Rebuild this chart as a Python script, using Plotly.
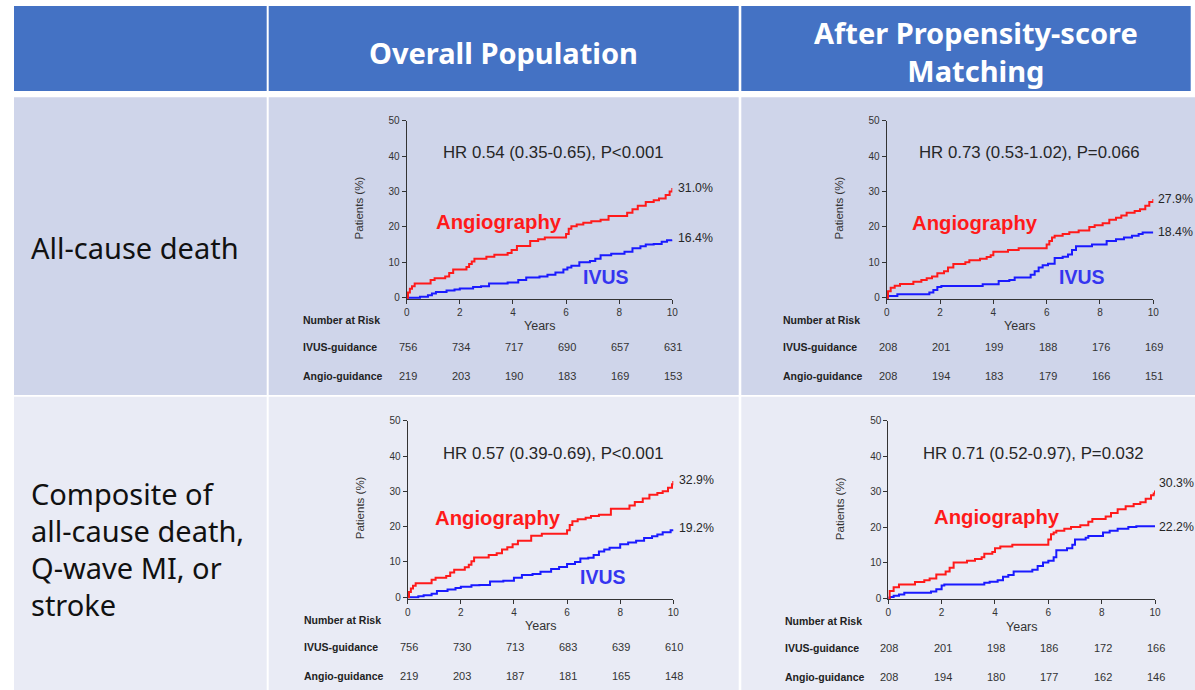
import plotly.graph_objects as go

W, H = 1195, 690

# ---------------- DATA ----------------
col_headers = ["Overall Population", "After Propensity-score<br>Matching"]
row_labels = ["All-cause death", ["Composite of", "all-cause death,", "Q-wave MI, or", "stroke"]]

hr_texts = ["HR 0.54 (0.35-0.65), P<0.001", "HR 0.73 (0.53-1.02), P=0.066",
            "HR 0.57 (0.39-0.69), P<0.001", "HR 0.71 (0.52-0.97), P=0.032"]

end_angio = ["31.0%", "27.9%", "32.9%", "30.3%"]
end_ivus = ["16.4%", "18.4%", "19.2%", "22.2%"]

risk_years = [0, 2, 4, 6, 8, 10]
risk_ivus = [[756, 734, 717, 690, 657, 631], [208, 201, 199, 188, 176, 169],
             [756, 730, 713, 683, 639, 610], [208, 201, 198, 186, 172, 166]]
risk_angio = [[219, 203, 190, 183, 169, 153], [208, 194, 183, 179, 166, 151],
              [219, 203, 187, 181, 165, 148], [208, 194, 180, 177, 162, 146]]

p1_angio_t = [0, 0.05, 0.12, 0.2, 0.3, 0.9, 1.05, 1.45, 1.6, 1.75, 2.25, 2.35, 2.45, 2.55, 3.0, 3.3, 3.8, 3.95, 4.15, 4.65, 4.95, 5.2, 6.0, 6.1, 6.2, 6.4, 6.65, 6.95, 7.3, 7.6, 8.3, 8.5, 8.7, 9.0, 9.3, 9.5, 9.75, 9.9, 10.0]
p1_angio_v = [0, 1.5, 2.5, 3.2, 4.0, 5.0, 5.5, 6.0, 7.0, 8.0, 8.7, 9.5, 10.2, 11.0, 11.6, 12.1, 12.6, 13.5, 14.6, 16.0, 16.5, 17.0, 18.0, 19.5, 20.2, 20.7, 21.2, 21.6, 22.0, 23.1, 24.0, 25.0, 26.0, 27.0, 27.5, 28.0, 29.0, 30.0, 31.0]
p1_ivus_t = [0, 0.5, 0.8, 0.95, 1.1, 1.5, 1.8, 2.0, 2.5, 2.8, 3.1, 3.8, 4.2, 4.5, 5.0, 5.3, 5.6, 5.9, 6.05, 6.2, 6.5, 6.9, 7.1, 7.3, 7.7, 8.2, 8.5, 8.8, 9.0, 9.3, 9.6, 9.8, 10.0]
p1_ivus_v = [0, 0.3, 0.7, 1.2, 1.6, 2.0, 2.3, 2.6, 3.0, 3.2, 4.0, 4.3, 5.0, 5.7, 6.0, 6.5, 7.1, 8.0, 8.5, 9.0, 10.0, 10.4, 11.0, 12.0, 12.4, 13.0, 14.0, 14.5, 15.0, 15.2, 15.8, 16.2, 16.4]

p2_angio_t = [0, 0.05, 0.15, 0.3, 0.5, 1.0, 1.3, 1.5, 1.7, 1.9, 2.15, 2.3, 2.5, 2.95, 3.1, 3.5, 3.75, 3.9, 4.0, 4.55, 4.95, 6.0, 6.1, 6.2, 6.3, 6.6, 6.85, 7.2, 7.6, 7.8, 8.1, 8.35, 8.6, 8.8, 9.0, 9.3, 9.5, 9.7, 9.85, 10.0]
p2_angio_v = [0, 1.8, 2.8, 3.4, 3.9, 4.5, 5.0, 5.5, 6.0, 6.9, 7.5, 8.5, 9.5, 10.0, 10.6, 11.0, 11.5, 12.0, 13.0, 13.5, 14.0, 15.0, 16.0, 17.0, 17.5, 18.0, 18.5, 19.0, 20.0, 20.5, 21.0, 22.0, 22.6, 23.2, 24.0, 24.5, 25.0, 26.0, 27.0, 27.9]
p2_ivus_t = [0, 0.05, 0.4, 1.6, 1.75, 1.9, 2.05, 3.6, 4.2, 4.6, 4.8, 5.4, 5.55, 5.7, 5.85, 6.05, 6.3, 6.6, 6.8, 6.95, 7.1, 7.7, 8.25, 8.6, 8.9, 9.2, 9.45, 9.6, 10.0]
p2_ivus_v = [0, 0.5, 1.0, 1.5, 2.2, 3.0, 3.3, 3.8, 4.7, 5.0, 5.7, 6.5, 7.5, 8.5, 9.2, 9.6, 11.2, 11.6, 12.2, 13.5, 14.5, 15.0, 16.0, 16.5, 17.0, 17.5, 18.0, 18.4, 18.4]

p3_angio_t = [0, 0.05, 0.12, 0.2, 0.3, 0.9, 1.05, 1.45, 1.6, 1.75, 2.15, 2.3, 2.4, 2.5, 3.05, 3.35, 3.55, 3.75, 3.95, 4.15, 4.65, 5.05, 6.0, 6.1, 6.2, 6.4, 6.7, 6.9, 7.2, 7.65, 8.35, 8.55, 8.85, 9.1, 9.4, 9.6, 9.8, 9.95, 10.0]
p3_angio_v = [0, 1.5, 2.5, 3.3, 4.0, 5.0, 5.5, 6.0, 7.0, 7.8, 8.5, 9.2, 10.2, 11.3, 12.0, 12.5, 13.5, 14.2, 15.0, 16.0, 17.4, 18.0, 19.0, 20.5, 21.5, 22.1, 22.5, 23.0, 23.4, 25.1, 26.0, 27.0, 28.0, 29.0, 29.5, 30.0, 31.0, 32.0, 32.9]
p3_ivus_t = [0, 0.4, 0.6, 0.9, 1.1, 1.5, 1.8, 2.0, 2.4, 2.7, 3.1, 3.6, 4.0, 4.3, 4.7, 5.0, 5.4, 5.7, 6.0, 6.3, 6.5, 6.8, 7.0, 7.2, 7.4, 7.6, 8.0, 8.3, 8.6, 8.9, 9.2, 9.4, 9.6, 9.9, 10.0]
p3_ivus_v = [0, 0.3, 0.6, 1.0, 1.8, 2.2, 2.6, 3.0, 3.4, 3.5, 4.5, 4.7, 5.5, 6.3, 6.6, 7.2, 8.0, 8.6, 9.4, 10.0, 11.0, 11.2, 12.0, 13.0, 13.5, 14.0, 15.0, 15.5, 16.0, 16.8, 17.3, 17.8, 18.4, 19.0, 19.2]

p4_angio_t = [0, 0.05, 0.2, 0.4, 1.0, 1.35, 1.55, 1.8, 2.15, 2.3, 2.45, 2.95, 3.25, 3.5, 3.6, 3.9, 4.0, 4.2, 4.65, 6.0, 6.1, 6.2, 6.3, 6.6, 6.85, 7.2, 7.5, 7.65, 8.15, 8.35, 8.6, 8.9, 9.2, 9.45, 9.65, 9.85, 9.95, 10.0]
p4_angio_v = [0, 2.0, 3.0, 3.8, 4.5, 5.0, 5.5, 6.6, 7.5, 8.5, 10.0, 10.5, 11.0, 11.5, 12.5, 13.0, 14.0, 14.5, 15.0, 16.5, 18.0, 18.5, 19.0, 19.5, 20.0, 20.5, 21.5, 22.3, 23.0, 24.0, 25.0, 25.9, 26.5, 27.0, 28.0, 29.0, 29.5, 30.3]
p4_ivus_t = [0, 0.05, 0.2, 0.4, 0.6, 1.6, 1.8, 2.0, 2.1, 3.6, 3.8, 4.1, 4.3, 4.5, 4.7, 5.4, 5.6, 5.8, 6.0, 6.2, 6.3, 6.7, 6.9, 7.0, 7.4, 7.5, 8.05, 8.3, 8.6, 9.0, 9.3, 10.0]
p4_ivus_v = [0, 0.3, 0.6, 1.0, 1.5, 1.8, 2.5, 3.5, 3.8, 4.3, 4.6, 5.0, 6.0, 6.5, 7.5, 8.0, 9.0, 10.0, 10.5, 11.5, 13.5, 14.0, 15.0, 16.5, 17.0, 17.5, 18.5, 19.0, 19.5, 20.0, 20.2, 20.3]

curves_angio = [(p1_angio_t, p1_angio_v), (p2_angio_t, p2_angio_v), (p3_angio_t, p3_angio_v), (p4_angio_t, p4_angio_v)]
curves_ivus = [(p1_ivus_t, p1_ivus_v), (p2_ivus_t, p2_ivus_v), (p3_ivus_t, p3_ivus_v), (p4_ivus_t, p4_ivus_v)]
show_ivus_label = [True, True, True, False]

# ---------------- LAYOUT (pixel geometry) ----------------
def px(x):
    return x / W

def py(y):
    return 1 - y / H

HEADER_BG = "#4472C4"
ROW_BG = ["#CFD5EA", "#E9EBF5"]
cols = [(14, 266.7), (268.7, 738.7), (741.3, 1195)]
header_y = (6, 91)
rows_y = [(97.3, 395), (396.7, 690)]

panels = [
    dict(x0=406.7, x1=672.3, y0=297.7, y50=120.7, lbl_dx=5.0),
    dict(x0=886.7, x1=1153.3, y0=297.7, y50=120.7, lbl_dx=3.8),
    dict(x0=407.7, x1=673.3, y0=597.3, y50=420.7, lbl_dx=4.5),
    dict(x0=888.3, x1=1155.0, y0=598.0, y50=420.7, lbl_dx=3.0),
]
hr_pos = [(553, 152), (1029, 152), (553, 453), (1033, 453)]
angio_lbl_pos = [(499.5, 221.7), (975, 222.7), (498, 518.3), (997, 517.3)]
ivus_lbl_pos = [(606, 277), (1082, 277.3), (602.5, 576.7), None]
end_lbl_y = [(188, 238.3), (199.3, 231.7), (480, 528.3), (483.3, 526.7)]
YMIN = -0.4

fig = go.Figure()
shapes = []
ann = []

for (cx0, cx1) in cols:
    hx1 = min(cx1, 1190.7)
    shapes.append(dict(type="rect", xref="paper", yref="paper", x0=px(cx0), x1=px(hx1),
                       y0=py(header_y[1]), y1=py(header_y[0]), fillcolor=HEADER_BG,
                       line=dict(width=0), layer="below"))
    for ri, (ry0, ry1) in enumerate(rows_y):
        shapes.append(dict(type="rect", xref="paper", yref="paper", x0=px(cx0), x1=px(cx1),
                           y0=py(ry1), y1=py(ry0), fillcolor=ROW_BG[ri],
                           line=dict(width=0), layer="below"))

HDR_FONT = dict(family="Noto Sans", size=29, color="white")
for txt, (hx, hy) in zip(col_headers, [(503, 52), (976, 51.5)]):
    ann.append(dict(text="<b>" + txt.replace("<br>", "</b><br><b>") + "</b>", x=px(hx), y=py(hy),
                    xref="paper", yref="paper", showarrow=False, font=HDR_FONT,
                    xanchor="center", yanchor="middle", align="center"))

ROW_FONT = dict(family="Noto Sans", size=29, color="#111111")
ann.append(dict(text=row_labels[0], x=px(29), y=py(247), xref="paper", yref="paper",
                showarrow=False, font=ROW_FONT, xanchor="left", yanchor="middle"))
for i, line in enumerate(row_labels[1]):
    ann.append(dict(text=line, x=px(29), y=py(493 + 37 * i), xref="paper", yref="paper",
                    showarrow=False, font=ROW_FONT, xanchor="left", yanchor="middle"))

TICK_FONT = dict(family="Liberation Sans, Arial", size=10, color="#333333")
layout_axes = {}
for i, p in enumerate(panels):
    k = "" if i == 0 else str(i + 1)
    ppu = (p["y0"] - p["y50"]) / 50.0
    ybot = p["y0"] - YMIN * ppu
    layout_axes["xaxis" + k] = dict(domain=[px(p["x0"]), px(p["x1"])], range=[0, 10],
                                    tickvals=risk_years, ticks="outside", ticklen=4, tickwidth=1,
                                    tickcolor="#333", showline=True, linecolor="#333", linewidth=1,
                                    showgrid=False, zeroline=False, tickfont=TICK_FONT, automargin=False,
                                    anchor="y" + k, layer="below traces", fixedrange=True)
    layout_axes["yaxis" + k] = dict(domain=[py(ybot), py(p["y50"])], range=[YMIN, 50],
                                    tickvals=[0, 10, 20, 30, 40, 50], ticks="outside", ticklen=4,
                                    tickwidth=1, tickcolor="#333", showline=True, linecolor="#333",
                                    linewidth=1, showgrid=False, zeroline=False, tickfont=TICK_FONT,
                                    automargin=False,
                                    anchor="x" + k, layer="below traces", fixedrange=True)
    xr = "x" + k
    yr = "y" + k
    at, av = curves_angio[i]
    it, iv = curves_ivus[i]
    fig.add_trace(go.Scatter(x=it, y=iv, mode="lines", line=dict(color="#1A1AFF", width=2, shape="hv"),
                             xaxis=xr, yaxis=yr, showlegend=False, hoverinfo="skip"))
    fig.add_trace(go.Scatter(x=at, y=av, mode="lines", line=dict(color="#FF1A1A", width=2, shape="hv"),
                             xaxis=xr, yaxis=yr, showlegend=False, hoverinfo="skip"))

    ann.append(dict(text="Years", x=px((p["x0"] + p["x1"]) / 2), y=py(p["y0"] + 28.5), xref="paper", yref="paper",
                    showarrow=False, font=dict(family="Liberation Sans, Arial", size=12.5, color="#333"),
                    xanchor="center", yanchor="middle"))
    ann.append(dict(text="Patients (%)", x=px(p["x0"] - 47.5), y=py((p["y0"] + p["y50"]) / 2 - 1),
                    xref="paper", yref="paper", textangle=-90, showarrow=False,
                    font=dict(family="Liberation Sans, Arial", size=11.5, color="#333"),
                    xanchor="center", yanchor="middle"))
    hx, hy = hr_pos[i]
    ann.append(dict(text=hr_texts[i], x=px(hx), y=py(hy), xref="paper", yref="paper", showarrow=False,
                    font=dict(family="Liberation Sans, Arial", size=16.8, color="#262626"),
                    xanchor="center", yanchor="middle"))
    ax_, ay_ = angio_lbl_pos[i]
    ann.append(dict(text="<b>Angiography</b>", x=px(ax_), y=py(ay_), xref="paper", yref="paper",
                    showarrow=False, font=dict(family="Liberation Sans, Arial", size=20.3, color="#FF1A1A"),
                    xanchor="center", yanchor="middle"))
    if show_ivus_label[i]:
        bx, by = ivus_lbl_pos[i]
        ann.append(dict(text="<b>IVUS</b>", x=px(bx), y=py(by), xref="paper", yref="paper",
                        showarrow=False, font=dict(family="Liberation Sans, Arial", size=19.5, color="#3535F0"),
                        xanchor="center", yanchor="middle"))
    ya, yb = end_lbl_y[i]
    for txt, yy in ((end_angio[i], ya), (end_ivus[i], yb)):
        ann.append(dict(text=txt, x=px(p["x1"] + p["lbl_dx"]), y=py(yy), xref="paper", yref="paper",
                        showarrow=False, font=dict(family="Liberation Sans, Arial", size=12.3, color="#262626"),
                        xanchor="left", yanchor="middle", borderpad=0))
    lx = p["x0"] - 105.7
    base = p["y0"]
    LBL_FONT = dict(family="Liberation Sans, Arial", size=10.5, color="#222")
    for txt, dy in (("Number at Risk", 22.5), ("IVUS-guidance", 49.5), ("Angio-guidance", 78.5)):
        ann.append(dict(text="<b>" + txt + "</b>", x=px(lx), y=py(base + dy), xref="paper", yref="paper",
                        showarrow=False, font=LBL_FONT, xanchor="left", yanchor="middle"))
    NUM_FONT = dict(family="Liberation Sans, Arial", size=11, color="#333")
    for yrs, n1, n2 in zip(risk_years, risk_ivus[i], risk_angio[i]):
        ann.append(dict(text=str(n1), x=yrs, xref=xr, xshift=1, y=py(base + 49.5), yref="paper",
                        showarrow=False, font=NUM_FONT, xanchor="center", yanchor="middle"))
        ann.append(dict(text=str(n2), x=yrs, xref=xr, xshift=1, y=py(base + 78.5), yref="paper",
                        showarrow=False, font=NUM_FONT, xanchor="center", yanchor="middle"))

fig.update_layout(template="none", width=W, height=H, autosize=False,
                  margin=dict(l=0, r=0, t=0, b=0, pad=0, autoexpand=False),
                  paper_bgcolor="white", plot_bgcolor="rgba(0,0,0,0)",
                  shapes=shapes, annotations=ann, showlegend=False, **layout_axes)

fig.write_html("out.html", config={"displayModeBar": False, "responsive": False},
               post_script="document.body.style.margin='0';document.body.style.padding='0';"
                           "document.body.style.overflow='hidden';")
